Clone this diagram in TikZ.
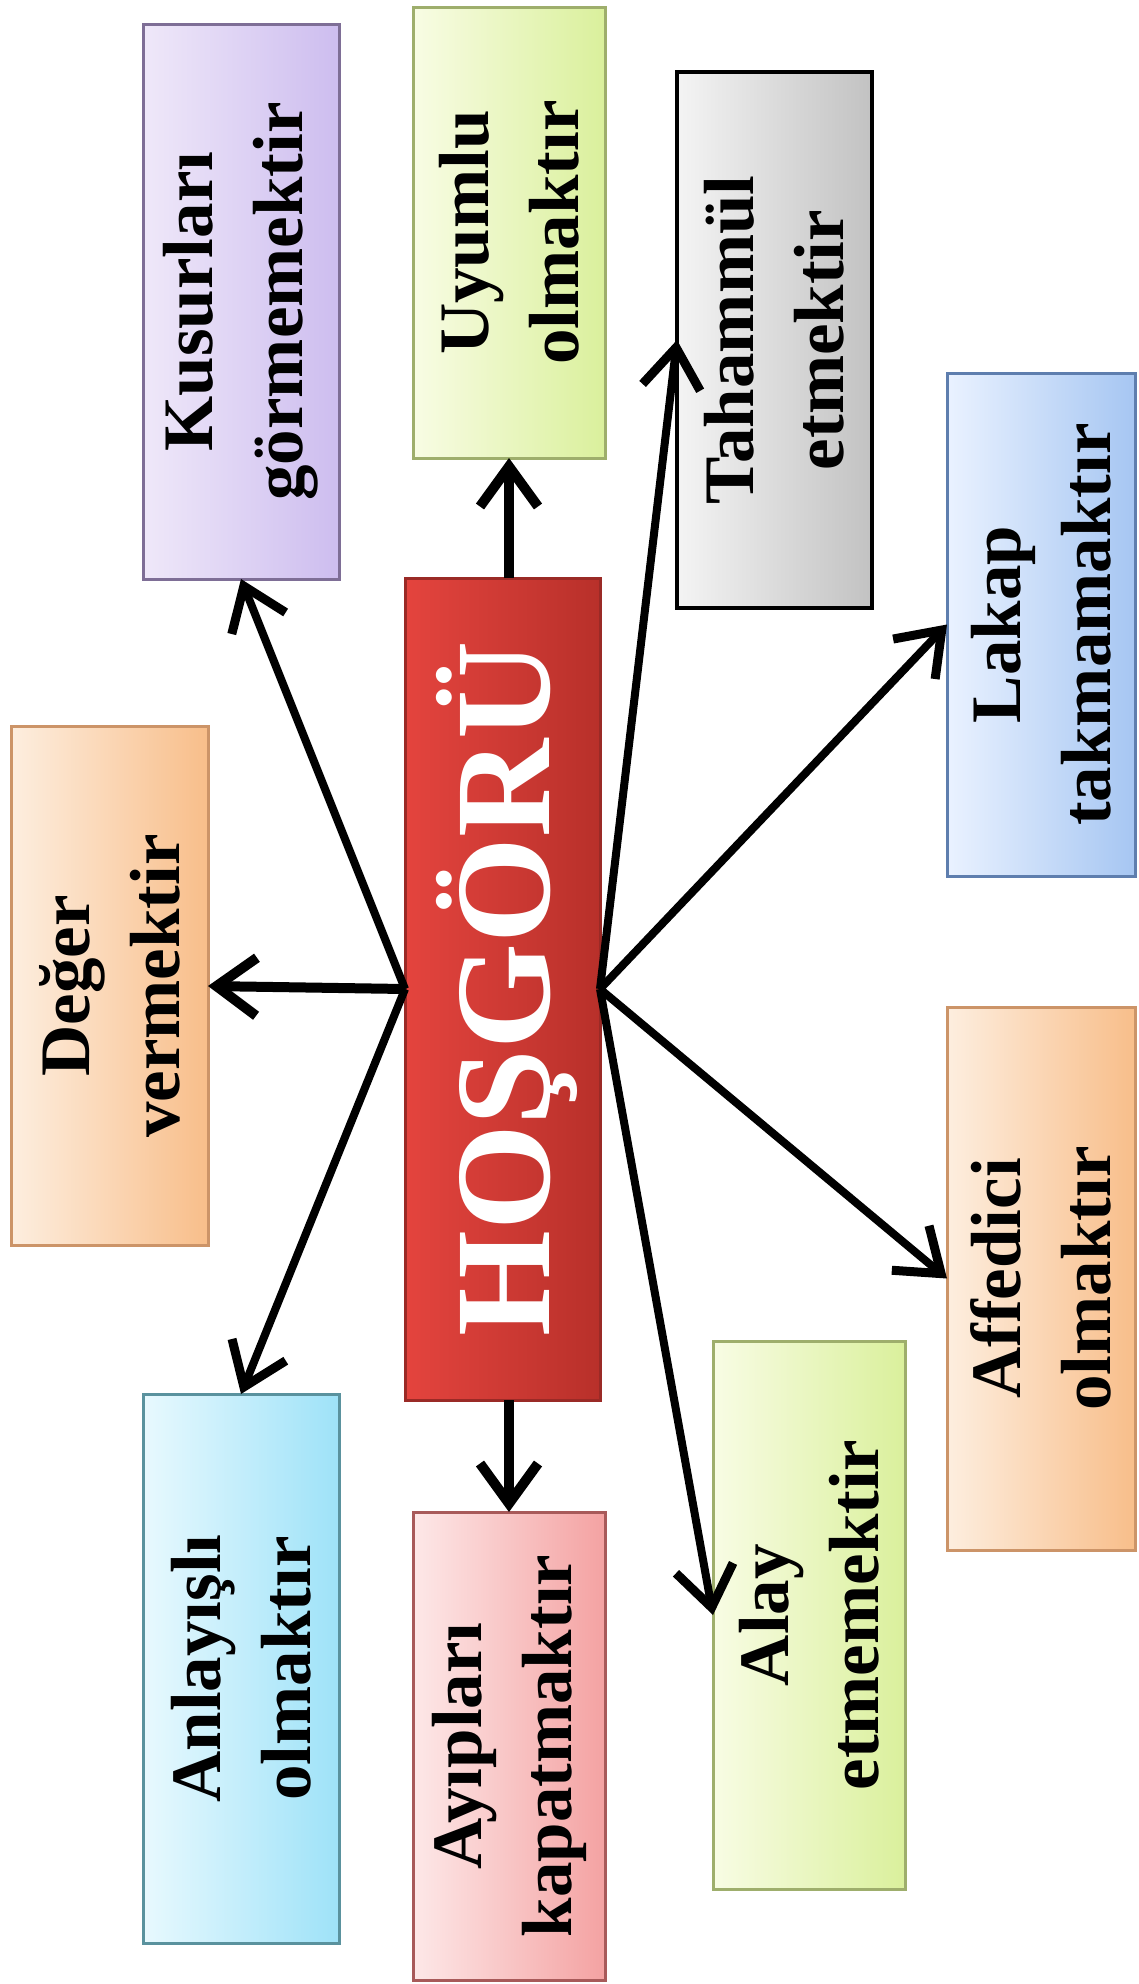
\documentclass[tikz,border=0pt]{standalone}
\usepackage{fontspec}
\setmainfont{Liberation Serif}
\usetikzlibrary{arrows.meta}
\definecolor{purL}{HTML}{EFE8F9}\definecolor{purR}{HTML}{CDBDEF}\definecolor{purB}{HTML}{7E6E96}
\definecolor{grnL}{HTML}{F8FCE4}\definecolor{grnR}{HTML}{DAF09C}\definecolor{grnB}{HTML}{9EAE6C}
\definecolor{gryL}{HTML}{F4F4F4}\definecolor{gryR}{HTML}{C2C2C2}
\definecolor{bluL}{HTML}{EAF2FF}\definecolor{bluR}{HTML}{A6C6F2}\definecolor{bluB}{HTML}{5E7EAE}
\definecolor{orgL}{HTML}{FDEEDF}\definecolor{orgR}{HTML}{F8BE8A}\definecolor{orgB}{HTML}{CC9468}
\definecolor{cyaL}{HTML}{E8F9FE}\definecolor{cyaR}{HTML}{9EE2F8}\definecolor{cyaB}{HTML}{5A929E}
\definecolor{pnkL}{HTML}{FDE8E8}\definecolor{pnkR}{HTML}{F4A2A2}\definecolor{pnkB}{HTML}{A85A5A}
\definecolor{redL}{HTML}{E4443E}\definecolor{redR}{HTML}{B8302A}\definecolor{redB}{HTML}{9A2A26}
\begin{document}
\begin{tikzpicture}[x=1pt,y=-1pt,
  box/.style={rectangle, inner sep=0pt, outer sep=0pt, line width=3pt},
  lbl/.style={rotate=90, align=center, inner sep=0pt,
    font=\fontsize{71}{90}\selectfont\bfseries, text=black},
  arr/.style={line width=10pt, -{Straight Barb[length=40pt,width=58pt,line width=10pt]}},
  darr/.style={line width=8pt, -{Straight Barb[length=40pt,width=58pt,line width=9pt]}}]
\useasboundingbox[fill=white] (0,0) rectangle (1139,1984);

% boxes
\node[box, minimum width=196pt, minimum height=555pt, draw=purB, left color=purL, right color=purR] (kus) at (241,301.5) {};
\node[box, minimum width=192pt, minimum height=451pt, draw=grnB, left color=grnL, right color=grnR] (uyu) at (509,232.5) {};
\node[box, minimum width=195pt, minimum height=536pt, draw=black, line width=4pt, left color=gryL, right color=gryR] (tah) at (774.5,340) {};
\node[box, minimum width=188pt, minimum height=503pt, draw=bluB, left color=bluL, right color=bluR] (lak) at (1041,624.5) {};
\node[box, minimum width=197pt, minimum height=519pt, draw=orgB, left color=orgL, right color=orgR] (deg) at (109.5,986) {};
\node[box, minimum width=195pt, minimum height=822pt, draw=redB, left color=redL, right color=redR] (red) at (502.5,989) {};
\node[box, minimum width=188pt, minimum height=543pt, draw=orgB, left color=orgL, right color=orgR] (aff) at (1041,1278.5) {};
\node[box, minimum width=196pt, minimum height=549pt, draw=cyaB, left color=cyaL, right color=cyaR] (anl) at (241,1668.5) {};
\node[box, minimum width=192pt, minimum height=468pt, draw=pnkB, left color=pnkL, right color=pnkR] (ayi) at (509,1746) {};
\node[box, minimum width=192pt, minimum height=548pt, draw=grnB, left color=grnL, right color=grnR] (alay) at (809,1615) {};

% texts
\node[lbl] (kusT) at (kus) {Kusurları\\görmemektir};
\node[lbl] (uyuT) at (uyu) {Uyumlu\\olmaktır};
\node[lbl] (tahT) at (tah) {Tahammül\\etmektir};
\node[lbl] (lakT) at (lak) {Lakap\\takmamaktır};
\node[lbl] (degT) at (deg) {Değer\\vermektir};
\node[lbl] (affT) at (aff) {Affedici\\olmaktır};
\node[lbl] (anlT) at (anl) {Anlayışlı\\olmaktır};
\node[lbl] (ayiT) at (ayi) {Ayıpları\\kapatmaktır};
\node[lbl] (alayT) at (alay) {Alay\\etmemektir};
\node[rotate=90, inner sep=0pt, text=white, font=\fontsize{136}{136}\selectfont\bfseries] (redT) at ([xshift=4pt]red) {HOŞGÖRÜ};

% arrows
\draw[arr] (uyu.south |- red.north) -- (uyu.south);
\draw[arr] (ayi.north |- red.south) -- (ayi.north);
\draw[arr] (red.west) -- (deg.east);
\draw[darr] (red.west) -- (kus.south);
\draw[darr] (red.west) -- (anl.north);
\draw[darr] (red.east) -- (tah.west);
\draw[darr] (red.east) -- (lak.west);
\draw[darr] (red.east) -- (aff.west);
\draw[darr] (red.east) -- (alay.west);
\end{tikzpicture}
\end{document}
